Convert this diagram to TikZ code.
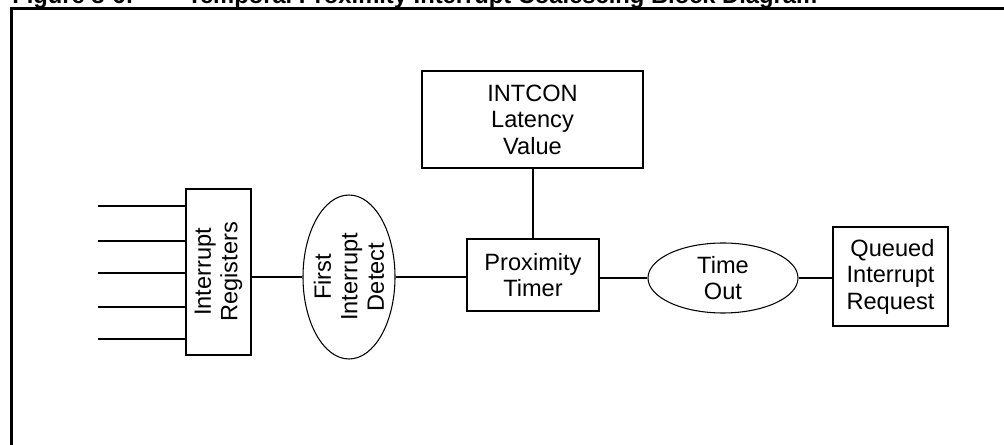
\documentclass[tikz,border=0pt]{standalone}
\usepackage{fontspec}
\setmainfont{Liberation Sans}
\usetikzlibrary{shapes.geometric}
\definecolor{diagramblack}{HTML}{000000}

\begin{document}
\begin{tikzpicture}[x=0.75pt, y=-0.75pt,
    txt/.style={font=\fontsize{17.7}{19.9}\selectfont, align=center},
    block/.style={draw=diagramblack, line width=1.5pt, inner sep=0pt, txt},
    oval/.style={draw=diagramblack, ellipse, line width=0.8pt, inner sep=0pt, txt},
    wire/.style={draw=diagramblack, line width=1.5pt}]
        % Canvas
        \useasboundingbox (0,0) rectangle (1004,445);
        \clip (0,0) rectangle (1004,445);

        % Caption, cut off at the top
        \node[anchor=base west, inner sep=0pt, font=\fontsize{17.8}{20}\selectfont\bfseries] (fignum) at (12,4) {Figure 8-6:};
        \node[anchor=base west, inner sep=0pt, font=\fontsize{17.8}{20}\selectfont\bfseries] (caption) at (187,4) {Temporal Proximity Interrupt Coalescing Block Diagram};

        % Frame
        \draw[diagramblack, line width=2.25pt] (11,9) rectangle (1030,470);

        % Blocks
        \node[block, minimum width=48.75pt, minimum height=124.5pt,
              label={[txt, rotate=90]center:Interrupt\\Registers}] (regs) at (218.5,272) {};
        \node[oval, minimum width=69pt, minimum height=123pt,
              label={[txt, rotate=90]center:First\\Interrupt\\Detect}] (detect) at (349,277) {};
        \node[block, minimum width=165.75pt, minimum height=72.75pt] (intcon) at (532.5,119.5) {INTCON\\Latency\\Value};
        \node[block, minimum width=99pt, minimum height=54pt] (timer) at (533,275) {Proximity\\Timer};
        \node[oval, minimum width=112.5pt, minimum height=52.5pt] (timeout) at (723,278) {Time\\Out};
        \node[block, minimum width=86.25pt, minimum height=74.25pt, align=right] (queued) at (890.5,276.5) {Queued\\Interrupt\\Request};

        % Interrupt inputs
        \foreach \i/\y in {0/206, 1/241, 2/273, 3/307, 4/339} {
            \coordinate (in\i) at (98,\y);
            \draw[wire] (in\i) -- (in\i -| regs.west);
        }

        % Connections
        \draw[wire] (regs.east |- detect.west) -- (detect.west);
        \draw[wire] (detect.east) -- (detect.east -| timer.west);
        \draw[wire] (intcon.south) -- (intcon.south |- timer.north);
        \draw[wire] (timer.east |- timeout.west) -- (timeout.west);
        \draw[wire] (timeout.east) -- (timeout.east -| queued.west);
\end{tikzpicture}
\end{document}
